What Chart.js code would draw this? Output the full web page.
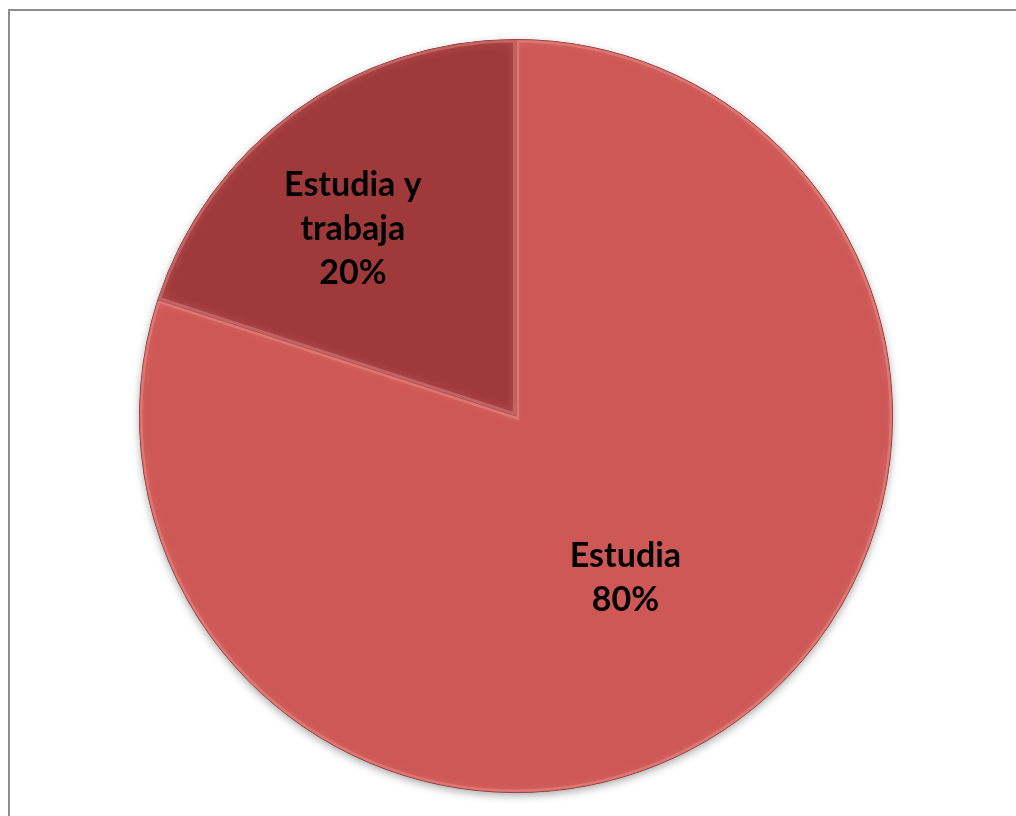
<!DOCTYPE html>
<html>
<head>
<meta charset="utf-8">
<script src="https://cdn.jsdelivr.net/npm/chart.js@4.4.1/dist/chart.umd.min.js"></script>
<style>
  html, body { margin: 0; padding: 0; background: #ffffff; overflow: hidden; }
  #frame {
    position: absolute; left: 8px; top: 9px; width: 1040px; height: 840px;
    border-left: 2px solid #8e8e8e; border-top: 2px solid #8e8e8e;
  }
  #wrap { position: absolute; left: 0; top: 0; width: 1016px; height: 816px; }
</style>
</head>
<body>
<div id="frame"></div>
<div id="wrap"><canvas id="chart"></canvas></div>
<script>
// Ocupación de los estudiantes
const categories = ['Estudia', 'Estudia y trabaja'];
const labelLines = [['Estudia'], ['Estudia y', 'trabaja']];
const values = [80, 20];
const sliceColors = ['#CD5855', '#A03A3A'];
// where each label sits: share of the slice's sweep, and share of the radius
const labelSweep = [0.507, 0.43];
const labelRadius = [0.52, 0.66];

// soft shadow under the pie
const pieShadow = {
  id: 'pieShadow',
  beforeDatasetsDraw(chart) {
    const arc = chart.getDatasetMeta(0).data[0];
    if (!arc) return;
    const ctx = chart.ctx;
    ctx.save();
    ctx.shadowColor = 'rgba(0,0,0,0.35)';
    ctx.shadowBlur = 8;
    ctx.shadowOffsetY = 3;
    ctx.fillStyle = '#b04a48';
    ctx.beginPath();
    ctx.arc(arc.x, arc.y, arc.outerRadius, 0, Math.PI * 2);
    ctx.fill();
    ctx.restore();
  }
};

// bevel: light inner rim on every slice
const pieBevel = {
  id: 'pieBevel',
  afterDatasetsDraw(chart) {
    const ctx = chart.ctx;
    chart.getDatasetMeta(0).data.forEach((arc) => {
      const {x, y, startAngle, endAngle, outerRadius} = arc.getProps(['x', 'y', 'startAngle', 'endAngle', 'outerRadius']);
      ctx.save();
      ctx.beginPath();
      ctx.moveTo(x, y);
      ctx.arc(x, y, outerRadius, startAngle, endAngle);
      ctx.closePath();
      ctx.clip();
      ctx.shadowColor = 'rgba(255,170,165,0.55)';
      ctx.shadowBlur = 10;
      ctx.strokeStyle = 'rgba(255,160,155,0.35)';
      ctx.lineWidth = 6;
      ctx.beginPath();
      ctx.moveTo(x, y);
      ctx.arc(x, y, outerRadius, startAngle, endAngle);
      ctx.closePath();
      ctx.stroke();
      ctx.restore();
    });
  }
};

// category name and share inside each slice
const sliceLabels = {
  id: 'sliceLabels',
  afterDatasetsDraw(chart) {
    const ctx = chart.ctx;
    const data = chart.data.datasets[0].data;
    const total = data.reduce((a, b) => a + b, 0);
    ctx.save();
    ctx.font = 'bold 34px Lato, "Open Sans", sans-serif';
    ctx.fillStyle = '#000000';
    ctx.textAlign = 'center';
    ctx.textBaseline = 'middle';
    const lineH = 44;
    chart.getDatasetMeta(0).data.forEach((arc, i) => {
      const {x, y, startAngle, endAngle, outerRadius} = arc.getProps(['x', 'y', 'startAngle', 'endAngle', 'outerRadius']);
      const ang = startAngle + (endAngle - startAngle) * labelSweep[i];
      const r = outerRadius * labelRadius[i];
      const cx = x + Math.cos(ang) * r;
      const cy = y + Math.sin(ang) * r;
      const lines = labelLines[i].concat([Math.round(data[i] / total * 100) + '%']);
      const top = cy - (lines.length - 1) * lineH / 2;
      lines.forEach((t, k) => ctx.fillText(t, cx, top + k * lineH));
    });
    ctx.restore();
  }
};

new Chart(document.getElementById('chart'), {
  type: 'pie',
  data: {
    labels: categories,
    datasets: [{
      data: values,
      backgroundColor: sliceColors,
      borderColor: '#7a2e2d',
      borderWidth: 1
    }]
  },
  options: {
    responsive: true,
    maintainAspectRatio: false,
    animation: false,
    layout: { padding: { left: 139, right: 123, top: 39, bottom: 23 } },
    plugins: {
      legend: { display: false },
      tooltip: { enabled: false }
    }
  },
  plugins: [pieShadow, pieBevel, sliceLabels]
});
</script>
</body>
</html>
